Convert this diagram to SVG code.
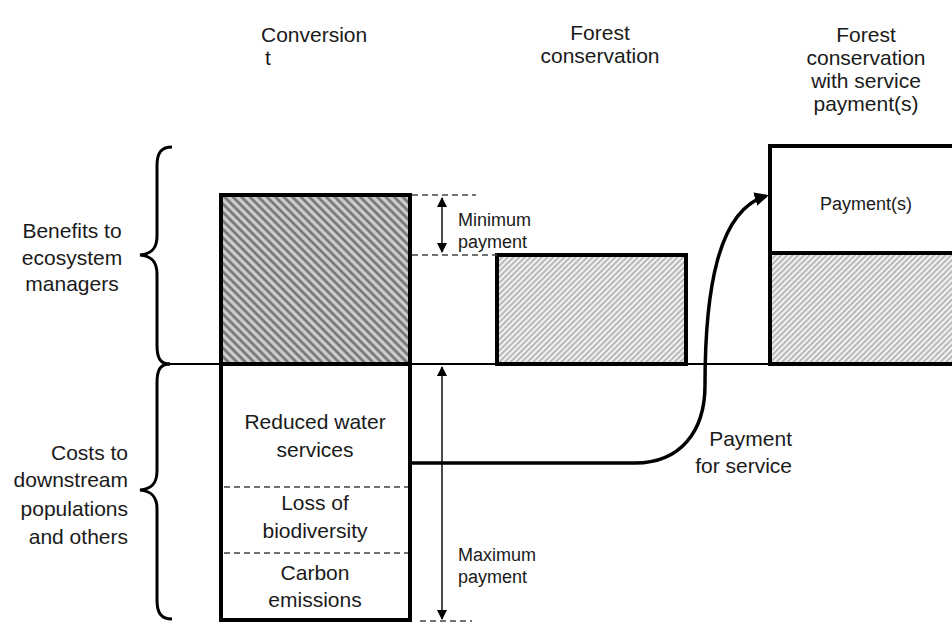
<svg xmlns="http://www.w3.org/2000/svg" width="952" height="622" viewBox="0 0 952 622">
  <style>
    text { font-family: "Liberation Sans", Arial, sans-serif; fill: #1a1a1a; }
    .t21 { font-size: 21px; }
    .t18 { font-size: 18px; }
    .mid { text-anchor: middle; }
    .end { text-anchor: end; }
    .box { fill: none; stroke: #000; stroke-width: 4; }
    .dash { stroke: #444; stroke-width: 1.6; stroke-dasharray: 6 4; fill: none; }
    .brace { fill: none; stroke: #000; stroke-width: 3; }
    .dim { stroke: #111; stroke-width: 1.5; fill: none; }
  </style>
  <defs>
    <!-- dense dark hatching, lines falling to the right -->
    <pattern id="hatchDark" patternUnits="userSpaceOnUse" width="6" height="6" patternTransform="rotate(-45)">
      <rect width="6" height="6" fill="#cccccc"/>
      <line x1="1.5" y1="0" x2="1.5" y2="6" stroke="#707070" stroke-width="2.5"/>
    </pattern>
    <!-- fine light hatching, lines rising to the right -->
    <pattern id="hatchLight" patternUnits="userSpaceOnUse" width="4" height="4" patternTransform="rotate(45)">
      <rect width="4" height="4" fill="#f2f2f2"/>
      <line x1="1" y1="0" x2="1" y2="4" stroke="#8a8a8a" stroke-width="1.1"/>
    </pattern>
    <marker id="tri" viewBox="0 0 10 10" refX="9" refY="5" markerWidth="10" markerHeight="10" markerUnits="userSpaceOnUse" orient="auto-start-reverse">
      <path d="M0,0 L10,5 L0,10 Z" fill="#000"/>
    </marker>
    <marker id="triBig" viewBox="0 0 10 10" refX="8" refY="5" markerWidth="14" markerHeight="14" markerUnits="userSpaceOnUse" orient="auto">
      <path d="M0,0 L10,5 L0,10 Z" fill="#000"/>
    </marker>
  </defs>

  <rect width="952" height="622" fill="#fff"/>

  <!-- column headings -->
  <g id="heading-conversion">
    <text class="t21" x="261" y="42">Conversion</text>
    <text class="t21" x="265" y="65">t</text>
  </g>
  <g id="heading-forest">
    <text class="t21 mid" x="600" y="40">Forest</text>
    <text class="t21 mid" x="600" y="63">conservation</text>
  </g>
  <g id="heading-forest-payment">
    <text class="t21 mid" x="866" y="42">Forest</text>
    <text class="t21 mid" x="866" y="65">conservation</text>
    <text class="t21 mid" x="866" y="88">with service</text>
    <text class="t21 mid" x="866" y="111">payment(s)</text>
  </g>

  <!-- row labels with braces -->
  <g id="label-benefits">
    <text class="t21 mid" x="72" y="238">Benefits to</text>
    <text class="t21 mid" x="72" y="265">ecosystem</text>
    <text class="t21 mid" x="72" y="291">managers</text>
    <path class="brace" d="M172,147 C161,147 157,153 157,166 L157,236 C157,249 151,254 140,255 C151,256 157,261 157,274 L157,345 C157,358 160,364 170,364"/>
  </g>
  <g id="label-costs">
    <text class="t21 end" x="128" y="460">Costs to</text>
    <text class="t21 end" x="128" y="487">downstream</text>
    <text class="t21 end" x="128" y="516">populations</text>
    <text class="t21 end" x="128" y="544">and others</text>
    <path class="brace" d="M170,364 C160,364 157,370 157,383 L157,471 C157,484 151,489 140,490 C151,491 157,496 157,509 L157,600 C157,613 161,619 172,619"/>
  </g>

  <!-- zero line -->
  <g id="baseline">
    <line x1="168" y1="364" x2="952" y2="364" stroke="#000" stroke-width="2"/>
  </g>

  <!-- conversion column -->
  <g id="conversion-benefit">
    <rect x="221" y="195" width="189" height="169" fill="url(#hatchDark)"/>
    <rect class="box" x="221" y="195" width="189" height="169"/>
  </g>
  <g id="conversion-costs">
    <rect class="box" x="221" y="364" width="189" height="256" fill="#fff"/>
    <line class="dash" x1="224" y1="487" x2="408" y2="487"/>
    <line class="dash" x1="224" y1="553" x2="408" y2="553"/>
    <text class="t21 mid" x="315" y="429">Reduced water</text>
    <text class="t21 mid" x="315" y="457">services</text>
    <text class="t21 mid" x="315" y="510">Loss of</text>
    <text class="t21 mid" x="315" y="538">biodiversity</text>
    <text class="t21 mid" x="315" y="580">Carbon</text>
    <text class="t21 mid" x="315" y="607">emissions</text>
  </g>

  <!-- forest conservation column -->
  <g id="forest-benefit">
    <rect x="497" y="255" width="189" height="109" fill="url(#hatchLight)"/>
    <rect class="box" x="497" y="255" width="189" height="109"/>
  </g>

  <!-- forest conservation with payments column -->
  <g id="forest-payment-benefit">
    <rect x="770" y="253" width="190" height="111" fill="url(#hatchLight)"/>
    <rect class="box" x="770" y="146" width="190" height="218"/>
    <line x1="770" y1="253" x2="952" y2="253" stroke="#000" stroke-width="4"/>
    <text class="t18 mid" x="866" y="210">Payment(s)</text>
  </g>

  <!-- minimum payment dimension -->
  <g id="minimum-payment">
    <line class="dash" x1="412" y1="195" x2="476" y2="195"/>
    <line class="dash" x1="412" y1="255" x2="497" y2="255"/>
    <text class="t18" x="458" y="226">Minimum</text>
    <text class="t18" x="458" y="248">payment</text>
  </g>

  <!-- maximum payment dimension -->
  <g id="maximum-payment">
    <line class="dash" x1="420" y1="621" x2="472" y2="621"/>
    <text class="t18" x="458" y="561">Maximum</text>
    <text class="t18" x="458" y="583">payment</text>
  </g>

  <!-- payment for service label -->
  <g id="payment-for-service">
    <text class="t21 end" x="792" y="446">Payment</text>
    <text class="t21 end" x="792" y="473">for service</text>
  </g>

  <g id="connectors">
    <line class="dim" x1="442" y1="198" x2="442" y2="252" marker-start="url(#tri)" marker-end="url(#tri)"/>
    <line class="dim" x1="442" y1="367" x2="442" y2="619" marker-start="url(#tri)" marker-end="url(#tri)"/>
    <path d="M410,463 L635,463 C680,463 705,432 705,385 C705,290 718,210 766,196" fill="none" stroke="#000" stroke-width="3.5" marker-end="url(#triBig)"/>
  </g>
</svg>
